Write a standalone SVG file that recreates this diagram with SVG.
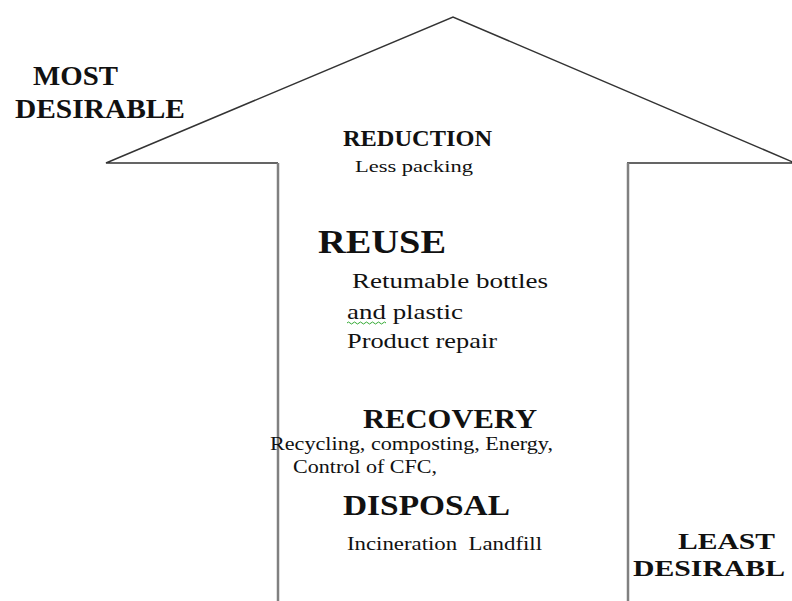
<svg xmlns="http://www.w3.org/2000/svg" width="792" height="601" viewBox="0 0 792 601" font-family="Liberation Serif, DejaVu Serif, Times New Roman, serif">
<style>
.t{fill:#111;}
.b{font-weight:bold;}
.edge{fill:none;stroke:#333;stroke-width:1.5;stroke-linejoin:miter;}
.shaft{fill:none;stroke:#808080;stroke-width:2.5;}
</style>
<rect width="792" height="601" fill="#fff"/>
<g id="connectors">
<path class="edge" d="M278,163 H106 L453,17 L795,163 H627"/>
<line class="shaft" x1="278" y1="163" x2="278" y2="601"/>
<line class="shaft" x1="628" y1="163" x2="628" y2="601"/>
</g>
<g id="most-desirable">
<text class="t b" x="33" y="85" font-size="28" textLength="85" lengthAdjust="spacingAndGlyphs">MOST</text>
<text class="t b" x="15" y="118" font-size="28" textLength="170" lengthAdjust="spacingAndGlyphs">DESIRABLE</text>
</g>
<g id="reduction">
<text class="t b" x="343" y="146" font-size="23" textLength="149" lengthAdjust="spacingAndGlyphs">REDUCTION</text>
<text class="t" x="355" y="172" font-size="17" textLength="118" lengthAdjust="spacingAndGlyphs">Less packing</text>
</g>
<g id="reuse">
<text class="t b" x="318" y="253" font-size="34" textLength="128" lengthAdjust="spacingAndGlyphs">REUSE</text>
<text class="t" x="352" y="288" font-size="22" textLength="196" lengthAdjust="spacingAndGlyphs">Retumable bottles</text>
<text class="t" x="347" y="319" font-size="22" textLength="116" lengthAdjust="spacingAndGlyphs">and plastic</text>
<path d="M347,323 q1.5,-2 3,0 t3,0 t3,0 t3,0 t3,0 t3,0 t3,0 t3,0 t3,0 t3,0 t3,0 t3,0 t3,0" fill="none" stroke="#3a3" stroke-width="1"/>
<text class="t" x="347" y="348" font-size="22" textLength="150" lengthAdjust="spacingAndGlyphs">Product repair</text>
</g>
<g id="recovery">
<text class="t b" x="363" y="428" font-size="28" textLength="174" lengthAdjust="spacingAndGlyphs">RECOVERY</text>
<text class="t" x="270" y="450" font-size="18" textLength="283" lengthAdjust="spacingAndGlyphs">Recycling, composting, Energy,</text>
<text class="t" x="293" y="473" font-size="18" textLength="144" lengthAdjust="spacingAndGlyphs">Control of CFC,</text>
</g>
<g id="disposal">
<text class="t b" x="343" y="515" font-size="29" textLength="167" lengthAdjust="spacingAndGlyphs">DISPOSAL</text>
<text class="t" x="347" y="550" font-size="19" textLength="195" lengthAdjust="spacingAndGlyphs" xml:space="preserve">Incineration  Landfill</text>
</g>
<g id="least-desirable">
<text class="t b" x="678" y="549" font-size="24" textLength="97" lengthAdjust="spacingAndGlyphs">LEAST</text>
<text class="t b" x="633" y="576" font-size="24" textLength="152" lengthAdjust="spacingAndGlyphs">DESIRABL</text>
</g>
</svg>
